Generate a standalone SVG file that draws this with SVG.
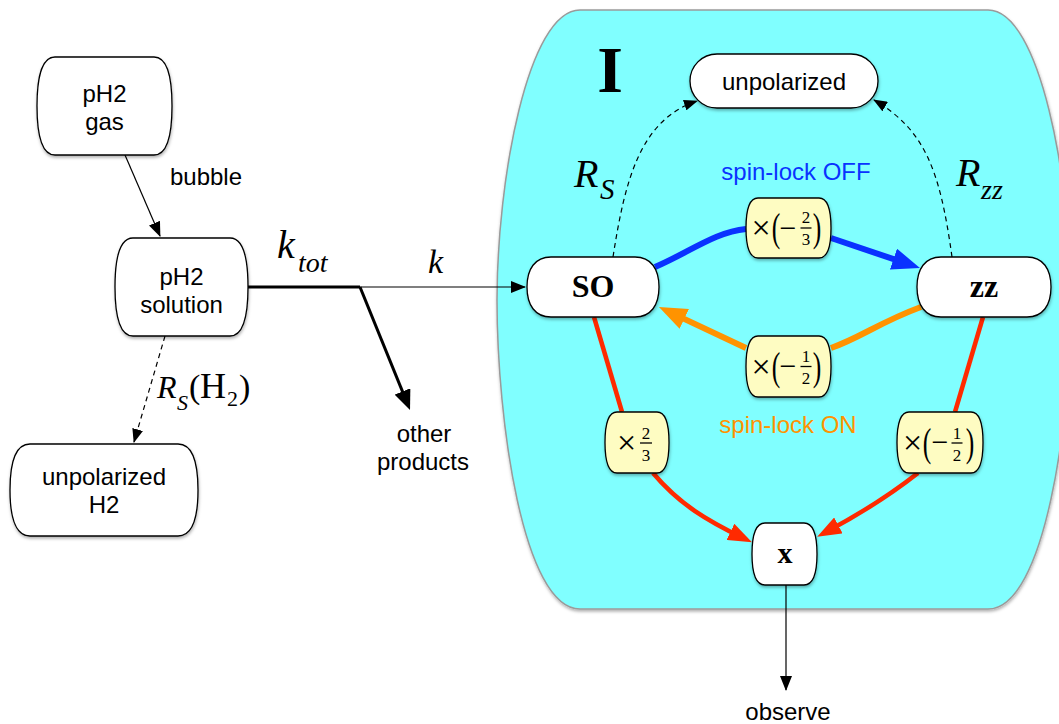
<svg xmlns="http://www.w3.org/2000/svg" width="1059" height="724" viewBox="0 0 1059 724">
<style>
.node{fill:#fff;stroke:#000;stroke-width:1.3}
.ybox{fill:#fefcc2;stroke:#000;stroke-width:1.3}
.sans{font-family:"Liberation Sans",Arial,sans-serif;font-size:24px;fill:#000;text-anchor:middle}
.serif{font-family:"Liberation Serif","Times New Roman",serif;fill:#000}
.it{font-style:italic}
.bold{font-weight:bold}
.mid{text-anchor:middle}
.thin{fill:none;stroke:#000;stroke-width:1.2}
.thick{fill:none;stroke:#000;stroke-width:3}
.dash{fill:none;stroke:#000;stroke-width:1.2;stroke-dasharray:5 4}
.blue{fill:none;stroke:#0a32ff;stroke-width:6}
.orange{fill:none;stroke:#ff9300;stroke-width:6}
.red{fill:none;stroke:#ff2a00;stroke-width:4.5}
.fbar{stroke:#000;stroke-width:1.3}
.times{font-size:34px}
.minus{font-size:30px}
.par{font-size:32px}
.dig{font-size:17px}
</style>
<defs>
<filter id="sh" x="-10%" y="-10%" width="130%" height="130%">
<feDropShadow dx="0.5" dy="2" stdDeviation="1.5" flood-color="#000" flood-opacity="0.3"/>
</filter>
<marker id="aBlack" markerUnits="userSpaceOnUse" markerWidth="16" markerHeight="12" refX="14" refY="6" orient="auto"><path d="M0,0 L15,6 L0,12 Z" fill="#000"/></marker>
<marker id="aBig" markerUnits="userSpaceOnUse" markerWidth="21" markerHeight="17" refX="12" refY="8.5" orient="auto"><path d="M0,0 L20,8.5 L0,17 Z" fill="#000"/></marker>
<marker id="aDash" markerUnits="userSpaceOnUse" markerWidth="15" markerHeight="11" refX="13" refY="5.5" orient="auto"><path d="M0,0 L14,5.5 L0,11 Z" fill="#000"/></marker>
<marker id="aBlue" markerUnits="userSpaceOnUse" markerWidth="29" markerHeight="22" refX="16" refY="11" orient="auto"><path d="M0,0 L28,11 L0,22 Z" fill="#0a32ff"/></marker>
<marker id="aOrange" markerUnits="userSpaceOnUse" markerWidth="29" markerHeight="22" refX="16" refY="11" orient="auto"><path d="M0,0 L28,11 L0,22 Z" fill="#ff9300"/></marker>
<marker id="aRed" markerUnits="userSpaceOnUse" markerWidth="25" markerHeight="18" refX="14" refY="9" orient="auto"><path d="M0,0 L24,9 L0,18 Z" fill="#ff2a00"/></marker>
</defs>

<g id="group-I">
<path d="M580,10 H988 C1040,10 1071,180 1071,300 C1071,420 1045,609 988,609 H580 C523,609 497,420 497,300 C497,180 528,10 580,10 Z" fill="#80ffff" stroke="#9a9a9a" stroke-width="1.5" filter="url(#sh)"/>
<text class="serif bold mid" x="610" y="92" font-size="66">I</text>
</g>

<g id="connectors">
<path class="thin" d="M125,155 L160,236" marker-end="url(#aBlack)"/>
<path class="dash" d="M165,336 L134,442" marker-end="url(#aDash)"/>
<path class="thick" d="M248,287 H360"/>
<path class="thin" d="M360,287 H525" marker-end="url(#aBlack)"/>
<path class="thick" d="M360,287 L407,402.6" marker-end="url(#aBig)"/>
<path class="dash" d="M613,257 C625,180 640,120 697,101" marker-end="url(#aDash)"/>
<path class="dash" d="M952,257 C940,170 925,130 874,100" marker-end="url(#aDash)"/>
<path class="blue" d="M655,267 C690,252 715,232 746,229"/>
<path class="blue" d="M831,238 L908.6,264.2" marker-end="url(#aBlue)"/>
<path class="orange" d="M921,307 C880,322 860,338 831,348"/>
<path class="orange" d="M746,348 L669.8,312.1" marker-end="url(#aOrange)"/>
<path class="red" d="M594,317 L622,412"/>
<path class="red" d="M653,473 C680,505 708,521 743,538" marker-end="url(#aRed)"/>
<path class="red" d="M983,317 L955,412"/>
<path class="red" d="M918,473 C890,495 858,515 826,532" marker-end="url(#aRed)"/>
<path class="thin" d="M786,585 L786,690" marker-end="url(#aBlack)"/>
<text class="sans" x="206" y="185">bubble</text>
<text class="serif it" x="157" y="398" font-size="32">R</text>
<text class="serif it" x="177" y="410" font-size="22">S</text>
<text class="serif" x="189" y="398" font-size="34">(</text>
<text class="serif" x="200" y="398" font-size="36">H</text>
<text class="serif" x="227" y="406" font-size="22">2</text>
<text class="serif" x="239" y="398" font-size="34">)</text>
<text class="serif it" x="277" y="258" font-size="40">k</text>
<text class="serif it" x="298" y="272" font-size="28">tot</text>
<text class="serif it" x="428" y="273" font-size="34">k</text>
<text class="sans" x="424" y="442">other</text>
<text class="sans" x="423" y="470">products</text>
<text class="serif it" x="574" y="187" font-size="40">R</text>
<text class="serif it" x="600" y="199" font-size="29">S</text>
<text class="serif it" x="956" y="186" font-size="40">R</text>
<text class="serif it" x="981" y="199" font-size="28">zz</text>
<text class="sans" x="796" y="180" style="fill:#0a32ff">spin-lock OFF</text>
<text class="sans" x="788" y="433" style="fill:#ff9300">spin-lock ON</text>
<text class="sans" x="788" y="720">observe</text>
</g>

<g id="node-ph2-gas">
<path class="node" filter="url(#sh)" d="M55,57 H154 C168.4,57 172,81.5 172,106 C172,130.5 168.4,155 154,155 H55 C40.6,155 37,130.5 37,106 C37,81.5 40.6,57 55,57 Z"/>
<text class="sans" x="104.5" y="102">pH2</text>
<text class="sans" x="104.5" y="130">gas</text>
</g>

<g id="node-ph2-solution">
<path class="node" filter="url(#sh)" d="M133,238 H230 C244.4,238 248,262.5 248,287 C248,311.5 244.4,336 230,336 H133 C118.6,336 115,311.5 115,287 C115,262.5 118.6,238 133,238 Z"/>
<text class="sans" x="181.5" y="285">pH2</text>
<text class="sans" x="181.5" y="313">solution</text>
</g>

<g id="node-unpolarized-h2">
<path class="node" filter="url(#sh)" d="M30,444 H178 C194,444 198,467 198,490 C198,513 194,536 178,536 H30 C14,536 10,513 10,490 C10,467 14,444 30,444 Z"/>
<text class="sans" x="104" y="485">unpolarized</text>
<text class="sans" x="104" y="513">H2</text>
</g>

<g id="node-unpolarized">
<rect class="node" filter="url(#sh)" x="690" y="54" width="188" height="54" rx="27" ry="27"/>
<text class="sans" x="784" y="90">unpolarized</text>
</g>

<g id="node-SO">
<path class="node" filter="url(#sh)" d="M551,257 H635 C651,257 659,269 659,287 C659,305 651,317 635,317 H551 C535,317 527,305 527,287 C527,269 535,257 551,257 Z"/>
<text class="serif bold mid" x="593" y="297" font-size="32">SO</text>
</g>

<g id="node-zz">
<path class="node" filter="url(#sh)" d="M941,257 H1027 C1043,257 1051,269 1051,287 C1051,305 1043,317 1027,317 H941 C925,317 917,305 917,287 C917,269 925,257 941,257 Z"/>
<text class="serif bold mid" x="984" y="297" font-size="32">zz</text>
</g>

<g id="node-x">
<path class="node" filter="url(#sh)" d="M765,523 H804 C814.4,523 817,538.5 817,554 C817,569.5 814.4,585 804,585 H765 C754.6,585 752,569.5 752,554 C752,538.5 754.6,523 765,523 Z"/>
<text class="serif bold mid" x="785" y="563" font-size="30">x</text>
</g>

<g id="factor-off">
<path class="ybox" filter="url(#sh)" d="M758,198 H819 C828.6,198 831,213 831,228 C831,243 828.6,258 819,258 H758 C748.4,258 746,243 746,228 C746,213 748.4,198 758,198 Z"/>
<text class="serif mid times" x="761" y="239">×</text>
<text class="serif mid par" transform="translate(776,241) scale(0.8,1.22)">(</text>
<text class="serif mid minus" x="788" y="237.5">−</text>
<text class="serif mid dig" x="806" y="223">2</text>
<line class="fbar" x1="800.5" y1="228" x2="811.5" y2="228"/>
<text class="serif mid dig" x="806" y="245">3</text>
<text class="serif mid par" transform="translate(817,241) scale(0.8,1.22)">)</text>
</g>

<g id="factor-on">
<path class="ybox" filter="url(#sh)" d="M758,336 H819 C828.6,336 831,351.25 831,366.5 C831,381.75 828.6,397 819,397 H758 C748.4,397 746,381.75 746,366.5 C746,351.25 748.4,336 758,336 Z"/>
<text class="serif mid times" x="761" y="377.5">×</text>
<text class="serif mid par" transform="translate(776,379.5) scale(0.8,1.22)">(</text>
<text class="serif mid minus" x="788" y="376">−</text>
<text class="serif mid dig" x="806" y="361.5">1</text>
<line class="fbar" x1="800.5" y1="366.5" x2="811.5" y2="366.5"/>
<text class="serif mid dig" x="806" y="383.5">2</text>
<text class="serif mid par" transform="translate(817,379.5) scale(0.8,1.22)">)</text>
</g>

<g id="factor-so-x">
<path class="ybox" filter="url(#sh)" d="M617,412 H657 C666.6,412 669,427.25 669,442.5 C669,457.75 666.6,473 657,473 H617 C607.4,473 605,457.75 605,442.5 C605,427.25 607.4,412 617,412 Z"/>
<text class="serif mid times" x="626.5" y="453.5">×</text>
<text class="serif mid dig" x="646" y="438.5">2</text>
<line class="fbar" x1="640" y1="443" x2="652" y2="443"/>
<text class="serif mid dig" x="646" y="460.5">3</text>
</g>

<g id="factor-zz-x">
<path class="ybox" filter="url(#sh)" d="M909,412 H971 C980.6,412 983,427.25 983,442.5 C983,457.75 980.6,473 971,473 H909 C899.4,473 897,457.75 897,442.5 C897,427.25 899.4,412 909,412 Z"/>
<text class="serif mid times" x="912.5" y="453.5">×</text>
<text class="serif mid par" transform="translate(927,455.5) scale(0.8,1.22)">(</text>
<text class="serif mid minus" x="940" y="452">−</text>
<text class="serif mid dig" x="957" y="438.5">1</text>
<line class="fbar" x1="951.5" y1="443" x2="962.5" y2="443"/>
<text class="serif mid dig" x="957" y="460.5">2</text>
<text class="serif mid par" transform="translate(970,455.5) scale(0.8,1.22)">)</text>
</g>
</svg>
